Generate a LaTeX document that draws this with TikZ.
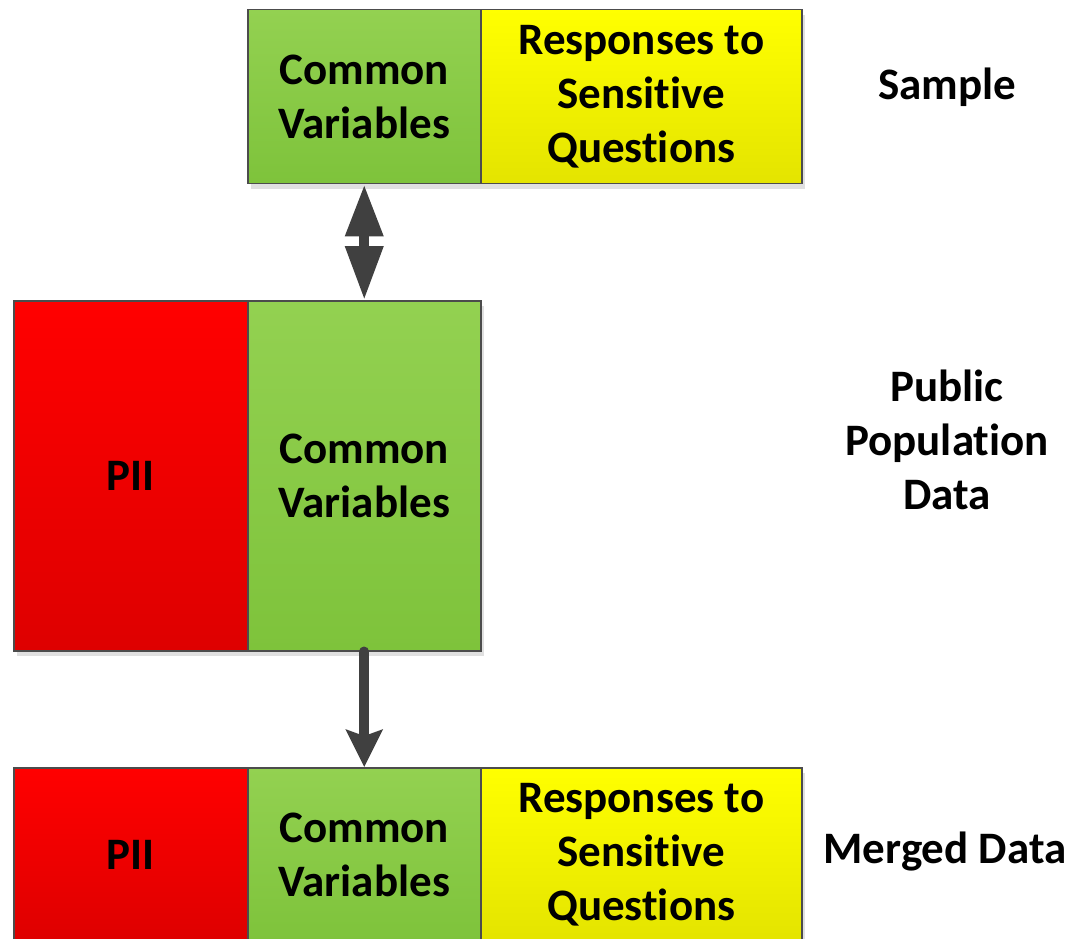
\documentclass[tikz,border=0pt]{standalone}
\usepackage{fontspec}
\setmainfont[Ligatures=NoCommon]{Carlito}
\usetikzlibrary{arrows.meta,shadows}
\definecolor{greentop}{HTML}{93D151}
\definecolor{greenbot}{HTML}{7EC33B}
\definecolor{redtop}{HTML}{FF0000}
\definecolor{redbot}{HTML}{DE0000}
\definecolor{yellowtop}{HTML}{FFFF00}
\definecolor{yellowbot}{HTML}{E4E400}
\definecolor{arrowgray}{HTML}{404040}
\begin{document}
\begin{tikzpicture}[x=1pt,y=-1pt,
    box/.style={draw=black!70,line width=1.5pt,inner sep=0pt,align=center,anchor=north west,
      font=\bfseries\fontsize{45}{54}\selectfont,
      drop shadow={shadow xshift=3pt,shadow yshift=-5pt,fill=black!12,opacity=1}},
    greenbox/.style={box,top color=greentop,bottom color=greenbot},
    redbox/.style={box,top color=redtop,bottom color=redbot},
    yellowbox/.style={box,top color=yellowtop,bottom color=yellowbot},
    sidetext/.style={font=\bfseries\fontsize{45}{54}\selectfont,align=center}]
    \useasboundingbox[fill=white] (0,0) rectangle (1072,939);
    % sample
    \node[greenbox,minimum width=233pt,minimum height=174pt] (scv) at (247,9) {Common\\Variables};
    \node[yellowbox,minimum width=321pt,minimum height=174pt] (sresp) at (480,9) {Responses to\\Sensitive\\Questions};
    % public population data
    \node[redbox,minimum width=234pt,minimum height=350pt] (ppii) at (13,300) {PII};
    \node[greenbox,minimum width=233pt,minimum height=350pt] (pcv) at (247,300) {Common\\Variables};
    % merged data
    \node[redbox,minimum width=234pt,minimum height=174pt] (mpii) at (13,767) {PII};
    \node[greenbox,minimum width=233pt,minimum height=174pt] (mcv) at (247,767) {Common\\Variables};
    \node[yellowbox,minimum width=321pt,minimum height=174pt] (mresp) at (480,767) {Responses to\\Sensitive\\Questions};
    % labels
    \node[sidetext] (sample) at (947,87) {Sample};
    \node[sidetext] (public) at (947,440) {Public\\Population\\Data};
    \node[sidetext] (merged) at (945,852) {Merged Data};
    % arrows
    \draw[arrowgray,line width=10pt,{Triangle[length=52pt,width=36pt]}-{Triangle[length=54pt,width=36pt]}] (scv.south) -- (pcv.north);
    \draw[arrowgray,line width=10pt,line cap=round,-{Stealth[length=37pt,width=36pt,inset=6pt]}] (pcv.south) -- (mcv.north);
\end{tikzpicture}
\end{document}
